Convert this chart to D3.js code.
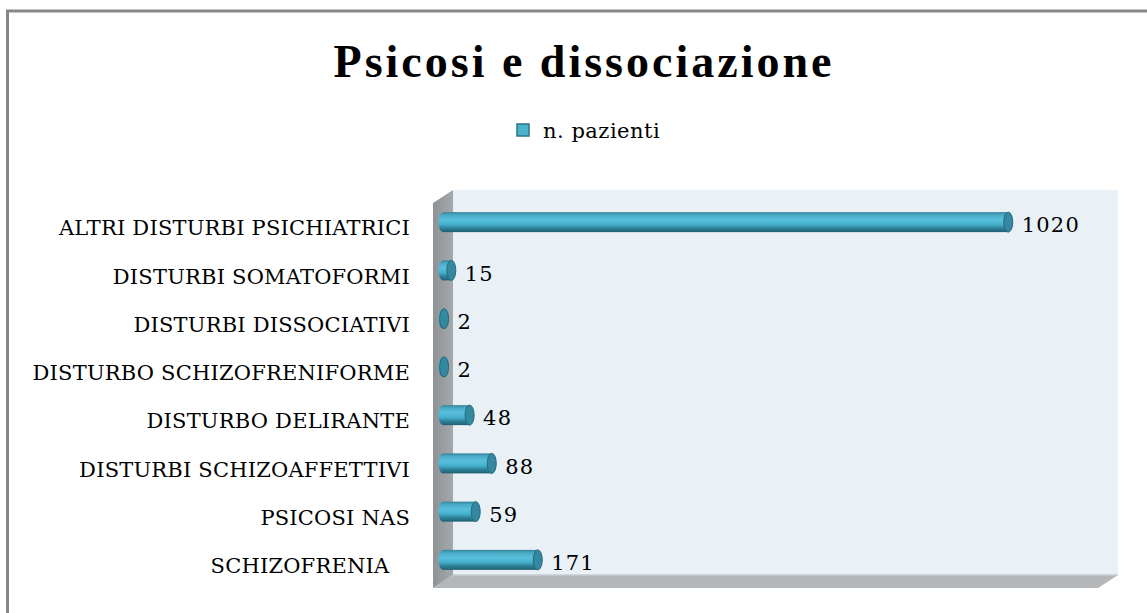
<!DOCTYPE html>
<html>
<head>
<meta charset="utf-8">
<script src="https://cdn.jsdelivr.net/npm/d3@7"></script>
<style>
  body { margin: 0; background: #fff; }
  text { font-family: "DejaVu Serif", serif; white-space: pre; }
  text.title { font-family: "Liberation Serif", serif; }
</style>
</head>
<body>
<script>
let width = 1147;
let height = 613;

// categories, top to bottom as drawn
let categories = [
  'ALTRI DISTURBI PSICHIATRICI',
  'DISTURBI SOMATOFORMI',
  'DISTURBI DISSOCIATIVI',
  'DISTURBO SCHIZOFRENIFORME',
  'DISTURBO DELIRANTE',
  'DISTURBI SCHIZOAFFETTIVI',
  'PSICOSI NAS',
  'SCHIZOFRENIA   '
];
let values = [1020, 15, 2, 2, 48, 88, 59, 171];
let seriesName = 'n. pazienti';
let title = 'Psicosi e dissociazione';
let xMax = 1200;

// depth of the 3d box (half offsets)
let dx = 10, dy = 6.5;

let x = d3.scaleLinear().domain([0, xMax]).range([443, 1108]);
let y = d3.scaleBand().domain(categories).range([198, 584]);
let barH = 20;
let capR = 4.5;

let svg = d3.select('body')
    .append('svg')
    .attr('width', width)
    .attr('height', height);

let defs = svg.append('defs');

let grad = defs.append('linearGradient')
    .attr('id', 'cyl')
    .attr('x1', 0).attr('y1', 0).attr('x2', 0).attr('y2', 1);
[[0, '#35849a'], [0.15, '#49abc6'], [0.38, '#58c0dc'], [0.62, '#46afcc'], [0.8, '#2d8299'], [1, '#1f5f72']]
  .forEach(s => grad.append('stop').attr('offset', s[0]).attr('stop-color', s[1]));

let sideGrad = defs.append('linearGradient')
    .attr('id', 'side')
    .attr('x1', 0).attr('y1', 0).attr('x2', 1).attr('y2', 0);
sideGrad.append('stop').attr('offset', 0).attr('stop-color', '#8e9295');
sideGrad.append('stop').attr('offset', 1).attr('stop-color', '#a5a9ac');

// chart area border
svg.append('rect')
    .attr('x', 7.5).attr('y', 11)
    .attr('width', width + 10).attr('height', height + 10)
    .attr('fill', 'none')
    .attr('stroke', '#878787')
    .attr('stroke-width', 3);

// title
svg.append('text')
    .attr('class', 'title')
    .attr('x', 584).attr('y', 77)
    .attr('text-anchor', 'middle')
    .attr('font-size', 46)
    .attr('font-weight', 'bold')
    .attr('letter-spacing', 3)
    .text(title);

// legend
svg.append('rect')
    .attr('x', 517).attr('y', 124)
    .attr('width', 12).attr('height', 12)
    .attr('fill', '#4bb1cc')
    .attr('stroke', '#2b7488')
    .attr('stroke-width', 1.5);
svg.append('text')
    .attr('x', 543).attr('y', 138)
    .attr('font-size', 21)
    .attr('letter-spacing', 0.5)
    .text(seriesName);

// walls
let wx0 = x(0) - dx, wx1 = x(xMax) - dx;
let wTop = 190 + dy, wBottom = 575 + dy;

svg.append('rect')
    .attr('x', wx0 + 2 * dx).attr('y', wTop - dy)
    .attr('width', wx1 - wx0).attr('height', wBottom - wTop)
    .attr('fill', '#e9f1f7');

svg.append('path')
    .attr('d', `M${wx0},${wTop + dy}L${wx0 + 2 * dx},${wTop - dy}L${wx0 + 2 * dx},${wBottom - dy}L${wx0},${wBottom + dy}Z`)
    .attr('fill', 'url(#side)');

svg.append('path')
    .attr('d', `M${wx0},${wBottom + dy}L${wx0 + 2 * dx},${wBottom - dy}L${wx1 + 2 * dx},${wBottom - dy}L${wx1},${wBottom + dy}Z`)
    .attr('fill', '#b3b7ba');
svg.append('line')
    .attr('x1', wx0 + 2 * dx).attr('x2', wx1 + 2 * dx)
    .attr('y1', wBottom - dy).attr('y2', wBottom - dy)
    .attr('stroke', '#c9cdd0').attr('stroke-width', 1.5);

// bars (cylinders)
let bars = svg.append('g')
  .selectAll('g')
  .data(categories.map((c, i) => ({cat: c, v: values[i]})))
  .enter().append('g')
    .attr('transform', d => `translate(0,${y(d.cat) + y.bandwidth() / 2})`);

bars.append('ellipse')
    .attr('cx', x(0)).attr('cy', 0)
    .attr('rx', capR).attr('ry', barH / 2)
    .attr('fill', 'url(#cyl)');

bars.append('rect')
    .attr('x', x(0)).attr('y', -barH / 2)
    .attr('width', d => x(d.v) - x(0))
    .attr('height', barH)
    .attr('fill', 'url(#cyl)');

bars.append('ellipse')
    .attr('cx', d => x(d.v)).attr('cy', 0)
    .attr('rx', capR).attr('ry', barH / 2)
    .attr('fill', '#34889f')
    .attr('stroke', '#246a7e')
    .attr('stroke-width', 1);

// value labels
bars.append('text')
    .attr('x', d => x(d.v) + capR + 9)
    .attr('y', 3)
    .attr('dy', '0.35em')
    .attr('font-size', 21)
    .attr('letter-spacing', 1.2)
    .text(d => d.v);

// category labels
svg.append('g')
  .selectAll('text')
  .data(categories)
  .enter().append('text')
    .attr('x', 410)
    .attr('y', d => y(d) + y.bandwidth() / 2 + 6)
    .attr('dy', '0.35em')
    .attr('text-anchor', 'end')
    .attr('font-size', 21)
    .attr('letter-spacing', 0.2)
    .text(d => d);
</script>
</body>
</html>
